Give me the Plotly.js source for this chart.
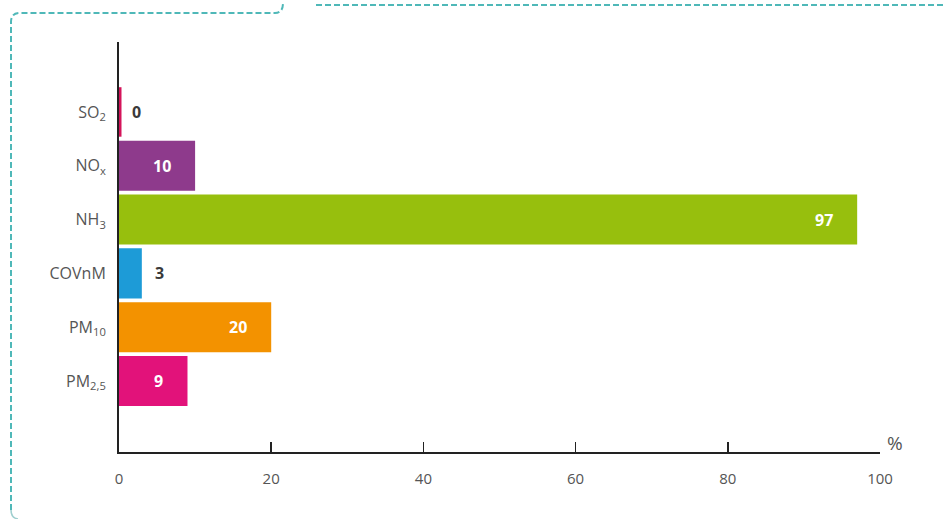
<!DOCTYPE html>
<html>
<head>
<meta charset="utf-8">
<script src="https://cdn.plot.ly/plotly-3.0.1.min.js"></script>
<style>html,body{margin:0;padding:0;background:#fff;}#chart{width:943px;height:519px;}</style>
</head>
<body>
<div id="chart"></div>
<script>
// Data
var categories = ['SO<sub>2</sub>', 'NO<sub>x</sub>', 'NH<sub>3</sub>', 'COVnM', 'PM<sub>10</sub>', 'PM<sub>2,5</sub>'];
var values = [0, 10, 97, 3, 20, 9];
var barColors = ['#d4145a', '#8e3a8c', '#97bf0d', '#1d9bd7', '#f39200', '#e2127a'];
var labelInside = [false, true, true, false, true, true];
var xTicks = [0, 20, 40, 60, 80, 100];
var unitLabel = '%';

var FONT = "'Liberation Sans Narrow', 'Open Sans', sans-serif";
var W = 943, H = 519;
var L = 119, R = 63, T = 42, B = 67;
var pw = W - L - R, ph = H - T - B;
function px(x) { return (x - L) / pw; }
function py(y) { return (H - B - y) / ph; }

var trace = {
  type: 'bar',
  orientation: 'h',
  y: categories,
  x: values,
  width: 0.93,
  marker: { color: barColors, line: { width: 0 } },
  hoverinfo: 'x+y'
};

var annotations = [];
for (var i = 0; i < values.length; i++) {
  annotations.push({
    x: values[i], y: categories[i], xref: 'x', yref: 'y',
    text: '<b>' + values[i] + '</b>',
    showarrow: false,
    xanchor: labelInside[i] ? 'right' : 'left',
    xshift: labelInside[i] ? -22 : 11,
    font: { family: FONT, size: 16, color: labelInside[i] ? '#ffffff' : '#3a3a3a' }
  });
}
annotations.push({
  x: 1, xref: 'paper', y: 0, yref: 'paper', text: unitLabel, showarrow: false,
  xanchor: 'left', yanchor: 'bottom', xshift: 5, yshift: -6,
  font: { family: FONT, size: 19, color: '#555' }
});

var dash = { color: '#4fb8b8', width: 2, dash: '6px,3px' };
var shapes = [
  // SO2 zero-value bar drawn as a thin sliver anchored at its value
  { type: 'rect', xref: 'x', yref: 'y', xsizemode: 'pixel', xanchor: values[0], x0: 0, x1: 2.5,
    y0: -0.46, y1: 0.46, fillcolor: barColors[0], line: { width: 0 }, layer: 'above' },
  // frame: left + top-left
  { type: 'path', xref: 'paper', yref: 'paper',
    path: 'M' + px(11) + ',' + py(510) + ' L' + px(11) + ',' + py(22) +
          ' Q' + px(11) + ',' + py(13) + ' ' + px(20) + ',' + py(13) +
          ' L' + px(275) + ',' + py(13) +
          ' Q' + px(283) + ',' + py(13) + ' ' + px(283) + ',' + py(3),
    line: dash },
  { type: 'path', xref: 'paper', yref: 'paper',
    path: 'M' + px(11) + ',' + py(510) + ' Q' + px(11) + ',' + py(518) + ' ' + px(18) + ',' + py(519),
    line: { color: '#9fcfcf', width: 1.5 } },
  { type: 'line', xref: 'paper', yref: 'paper', x0: px(316), x1: px(943), y0: py(5), y1: py(5), line: dash }
];

var layout = {
  width: W, height: H,
  margin: { l: L, r: R, t: T, b: B, pad: 0 },
  paper_bgcolor: '#ffffff', plot_bgcolor: '#ffffff',
  showlegend: false,
  font: { family: FONT, color: '#555' },
  xaxis: {
    range: [0, 100], tickvals: xTicks, ticktext: xTicks.map(String),
    showgrid: false, zeroline: false,
    showline: true, linecolor: '#222', linewidth: 2,
    ticks: 'inside', ticklen: 10, tickwidth: 1.5, tickcolor: '#222',
    ticklabelstandoff: 12,
    tickfont: { family: FONT, size: 15, color: '#555' },
    fixedrange: true
  },
  yaxis: {
    type: 'category',
    range: [6.32, -1.3],
    showgrid: false, zeroline: false,
    showline: true, linecolor: '#222', linewidth: 2,
    ticks: '', ticklabelstandoff: 8,
    tickfont: { family: FONT, size: 16, color: '#555' },
    fixedrange: true
  },
  annotations: annotations,
  shapes: shapes
};

Plotly.newPlot('chart', [trace], layout, { displayModeBar: false, staticPlot: true });
</script>
</body>
</html>
